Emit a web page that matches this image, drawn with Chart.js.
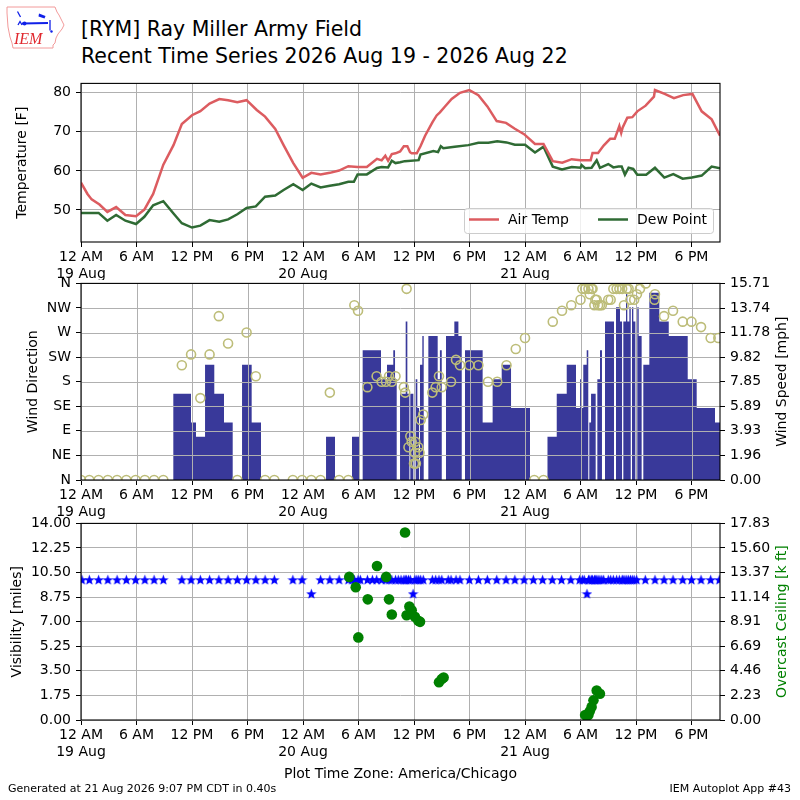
<!DOCTYPE html>
<html>
<head>
<meta charset="utf-8">
<title>RYM Recent Time Series</title>
<script src="https://cdn.jsdelivr.net/npm/chart.js@4.4.1/dist/chart.umd.min.js"></script>
<style>
  body { margin: 0; width: 800px; height: 800px; background: #fff; position: relative; overflow: hidden;
         font-family: "DejaVu Sans", sans-serif; color: #000; }
  canvas { position: absolute; left: 0; }
  .txt { position: absolute; white-space: nowrap; }
</style>
</head>
<body>
<canvas id="logo" width="70" height="55" style="top:0"></canvas>
<div class="txt" style="left:81px;top:16px;font-size:20.5px;line-height:27px">[RYM] Ray Miller Army Field<br>Recent Time Series 2026 Aug 19 - 2026 Aug 22</div>
<canvas id="tempChart" width="800" height="210" style="top:70px"></canvas>
<canvas id="windChart" width="800" height="250" style="top:270px"></canvas>
<canvas id="visChart" width="800" height="290" style="top:510px"></canvas>
<div class="txt" style="left:8px;top:782px;font-size:11px">Generated at 21 Aug 2026 9:07 PM CDT in 0.40s</div>
<div class="txt" style="right:9px;top:782px;font-size:11px">IEM Autoplot App #43</div>
<script>
// ==== Time axis: hours since 19 Aug 12 AM (America/Chicago)
const X_MAX = 69.08;
const xTickHours = [0, 6, 12, 18, 24, 30, 36, 42, 48, 54, 60, 66];
const xTickLabels = [["12 AM", "19 Aug"], "6 AM", "12 PM", "6 PM",
                     ["12 AM", "20 Aug"], "6 AM", "12 PM", "6 PM",
                     ["12 AM", "21 Aug"], "6 AM", "12 PM", "6 PM"];

// ==== Temperature
const tempTicks = [50, 60, 70, 80];
const airHours = [0,0.7,1.15,2.0,2.85,3.8,4.8,5.95,6.85,7.8,8.9,10.0,10.9,12.0,12.9,13.9,14.95,15.9,16.9,17.9,
  19.0,19.9,21.0,21.9,22.95,23.96,24.9,25.9,26.9,27.9,28.9,29.9,30.9,32.0,32.5,32.9,33.2,33.6,34.0,34.5,
  34.9,35.28,35.57,35.75,36.3,36.7,37.2,38.0,38.45,38.8,39.35,40.07,40.97,41.98,42.96,43.93,44.94,45.95,46.9,47.9,
  49.08,50.0,51.0,52.03,53.05,54.0,55.1,55.3,55.9,56.5,57.2,57.7,58.2,58.4,58.56,59.06,59.6,60.14,61.04,61.94,
  62.05,63.1,64.1,65.1,66.1,67.1,68.18,69.08];
const airTemp = [57.0,54.1,52.7,51.4,49.5,50.75,48.7,48.4,50.1,54.1,61.6,66.6,72.0,74.25,75.3,77.25,78.4,78.1,77.6,78.1,
  75.6,73.9,70.75,66.6,62.0,58.25,59.5,59.1,59.5,60.1,61.2,61.0,61.0,63.1,62.7,63.9,62.6,64.3,64.5,65.0,
  66.3,66.3,64.8,64.5,64.5,66.3,69.0,72.5,74.2,75.0,76.5,78.4,80.0,80.7,79.4,76.5,72.75,72.3,70.8,69.4,
  66.9,66.9,62.5,62.1,63.0,62.75,62.75,64.6,64.6,66.5,68.2,68.2,71.5,69.7,71.1,73.6,73.75,75.25,76.7,79.0,
  80.7,79.7,78.6,79.4,79.7,75.25,73.2,69.0];
const dewHours = [0,1,1.9,2.85,3.8,4.8,5.95,6.85,7.8,8.9,10.0,10.9,12.0,12.9,13.9,14.95,15.9,16.9,17.9,18.9,
  19.9,21.0,21.9,22.95,23.96,24.9,25.9,26.9,27.9,28.9,29.5,29.9,30.9,32.0,32.5,33.2,33.6,34.0,34.5,35.0,
  36.5,36.7,38.1,38.6,38.9,39.17,40.4,41.87,42.96,44.04,45.0,46.0,46.9,48.0,49.08,50.0,51.0,52.0,53.05,54.0,
  54.12,54.5,55.2,55.75,56.1,57.0,57.55,58.1,58.45,58.8,59.2,59.7,60.14,61.1,62.05,63.06,64.03,65.04,66.05,67.1,
  68.18,69.08];
const dewTemp = [49.25,49.25,49.25,47.25,48.7,47.25,46.4,48.25,51.2,52.25,49.1,46.6,45.5,46.0,47.4,47.0,47.6,48.9,50.5,50.9,
  53.4,53.7,55.1,56.6,55.1,56.75,55.75,56.2,56.6,57.2,57.2,59.1,59.1,60.75,61.0,60.9,62.6,62.0,62.2,62.5,
  62.75,64.2,65.1,64.8,66.3,65.8,66.2,66.6,67.2,67.2,67.6,67.3,66.7,66.7,64.7,66.2,61.1,60.4,61.0,60.8,
  61.5,60.7,60.8,62.7,60.8,61.75,60.9,61.1,61.1,59.0,60.8,60.5,59.0,59.0,60.8,58.3,59.2,58.0,58.3,58.8,
  61.1,60.7];

// ==== Wind
const dirTicks = [0, 45, 90, 135, 180, 225, 270, 315, 360];
const dirTickLabels = ["N", "NE", "E", "SE", "S", "SW", "W", "NW", "N"];
const spdTicks = [0, 1.96, 3.93, 5.89, 7.85, 9.82, 11.78, 13.74, 15.71];
const dirHours = [0,0.9,1.9,2.9,3.9,4.9,5.9,6.9,7.9,8.9,
  10.9,11.9,12.9,13.9,14.9,15.9,16.9,17.9,18.9,19.9,
  20.9,22.9,23.9,24.9,25.9,26.9,27.9,28.9,
  29.55,29.95,30.96,31.96,32.5,32.97,33.3,33.6,34.0,34.9,
  35.05,35.2,35.4,35.6,35.75,36.0,36.1,36.14,36.2,36.47,
  36.6,36.72,37.0,37.98,38.34,38.7,39.0,40.0,40.54,40.97,
  41.98,42.96,44.0,45.0,46.0,47.0,48.0,49.0,50.0,51.0,
  52.0,53.0,54.0,54.2,54.5,54.86,55.0,55.2,55.3,55.5,
  55.6,55.75,55.9,56.1,56.3,57.0,57.26,57.55,57.9,58.2,
  58.5,58.7,59.0,59.2,59.4,59.8,60.1,60.43,61.05,62.0,
  62.05,63.03,64.0,65.05,66.0,67.03,68.07,68.9];
const dirDeg = [0,0,0,0,0,0,0,0,0,0,
  210,230,150,230,300,250,0,270,190,0,
  0,0,0,0,0,160,0,0,
  320,310,170,190,180,180,190,180,190,170,
  160,350,60,80,70,30,50,70,30,60,
  50,110,120,160,170,190,170,180,220,210,
  210,210,180,180,210,240,260,0,0,290,
  310,320,330,350,350,350,340,350,350,320,
  330,330,320,320,320,330,330,350,350,350,
  350,320,350,350,330,330,340,350,360,330,
  340,300,310,290,290,280,260,260];
// speed in mph, each value holds until the next time
const spdHours = [0,9.98,11.89,12.43,13.41,14.41,15.46,16.4,17.41,18.45,
  19.46,26.49,27.46,29.30,30.09,30.45,32.43,33.08,33.76,33.95,
  34.13,34.49,35.1,35.28,35.5,35.6,35.93,36.18,36.36,36.55,
  36.65,36.9,37.05,37.55,38.56,38.8,39.0,39.46,40.36,40.8,
  41.16,41.51,43.42,44.5,45.48,46.49,48.54,50.43,51.43,52.51,
  53.51,53.95,54.05,54.3,54.67,54.84,54.95,55.14,55.64,55.82,
  56.11,56.32,56.65,57.62,57.84,58.27,58.49,58.63,58.92,59.06,
  59.28,59.43,59.57,59.71,59.93,60.14,60.29,60.61,60.79,61.44,
  62.52,63.54,65.59,66.56,68.54,69.2];
const spdMph = [0,6.90,4.60,3.45,9.21,6.90,4.60,0,9.21,4.60,
  0,3.45,0,3.45,0,10.36,8.06,9.21,10.36,8.06,
  0,6.90,12.66,6.90,0,6.90,0,8.06,5.75,0,
  9.21,11.51,0,11.51,8.06,10.36,0,11.51,12.66,11.51,
  0,10.36,4.60,8.06,9.21,5.75,0,3.45,6.90,9.21,
  5.75,8.06,5.75,9.21,10.36,0,4.60,6.90,0,8.06,
  10.36,0,12.66,0,13.81,12.66,0,12.66,14.96,12.66,
  13.81,0,13.81,12.66,0,13.81,11.51,0,9.21,14.96,
  12.66,11.51,8.06,5.75,4.60,4.60];

// ==== Visibility / ceiling
const visTicks = [0, 1.75, 3.5, 5.25, 7, 8.75, 10.5, 12.25, 14];
const ceilTicks = [0, 2.23, 4.46, 6.69, 8.91, 11.14, 13.37, 15.6, 17.83];
const visHours = [0.1,0.9,1.9,2.9,3.9,4.9,5.9,6.9,7.9,8.9,
  10.9,11.9,12.9,13.9,14.9,15.9,16.9,17.9,18.9,19.9,20.9,
  22.9,23.9,24.9,25.9,26.9,27.9,28.9,
  29.3,29.55,29.95,30.2,30.96,31.5,31.96,32.5,32.97,33.3,
  33.6,34.0,34.3,34.6,34.9,35.05,35.2,35.4,35.6,35.9,
  36.1,36.3,36.5,36.72,37.0,37.98,38.34,38.7,39.0,39.7,
  40.0,40.54,40.97,41.98,42.96,43.93,44.94,45.95,46.9,47.9,
  48.9,49.9,50.95,51.95,52.95,53.9,54.2,54.4,54.7,54.86,
  55.0,55.2,55.3,55.5,55.6,55.75,55.9,56.1,56.3,56.5,
  57.0,57.26,57.55,57.9,58.2,58.5,58.6,58.8,59.0,59.2,
  59.4,59.6,59.8,60.07,61.0,62.05,63.03,64.0,65.05,66.0,
  67.03,68.07,69.0];
const visMiles = [10,10,10,10,10,10,10,10,10,10,
  10,10,10,10,10,10,10,10,10,10,10,
  10,10,9,10,10,10,10,
  10,10,10,10,10,10,10,10,10,10,
  10,10,10,10,10,10,10,10,10,9,
  10,10,10,10,10,10,10,10,10,10,
  10,10,10,10,10,10,10,10,10,10,
  10,10,10,10,10,10,10,10,9,10,
  10,10,10,10,10,10,10,10,10,10,
  10,10,10,10,10,10,10,10,10,10,
  10,10,10,10,10,10,10,10,10,10,
  10,10,10];
const ceilHours = [29.0,29.7,29.98,31.0,32.0,33.0,33.3,33.6,35.03,35.2,35.5,35.75,36.1,36.47,36.65,
  38.7,39.0,39.2,54.5,54.85,55.0,55.2,55.4,55.75,56.1];
const ceilKft = [12.98,12.04,7.49,10.94,13.97,12.98,10.94,9.57,17.0,9.5,10.3,9.96,9.36,9.0,8.9,
  3.42,3.71,3.86,0.45,0.45,0.8,1.19,1.78,2.67,2.38];

// ==== Styles
const GRID = "#b0b0b0";
const AIR_C = "#dc5c60";
const DEW_C = "#2f6b34";
const BAR_C = "#39399a";
const DIR_C = "#bdbd79";
const VIS_C = "#0000ff";
const CEIL_C = "#008000";

Chart.defaults.font.family = "'DejaVu Sans', sans-serif";
Chart.defaults.font.size = 14;
Chart.defaults.color = "#000";

// ==== Helpers
const pts = (xs, ys) => xs.map((x, i) => ({ x: x, y: ys[i] }));

function fixTicks(list) {
  return s => { s.ticks = list.map(v => ({ value: v })); };
}

function timeScale(h, onArea, extra) {
  return Object.assign({
    type: "linear", min: 0, max: X_MAX,
    afterBuildTicks: fixTicks(xTickHours),
    afterFit: s => { s.height = h; },
    ticks: { autoSkip: false, maxRotation: 0, padding: 2, callback: (v, i) => xTickLabels[i] },
    grid: { color: GRID, tickColor: "#000", tickLength: 5, drawOnChartArea: onArea },
    border: { display: false },
  }, extra || {});
}

function valueScale(pos, min, max, ticks, fmt, onArea, extra) {
  return Object.assign({
    type: "linear", position: pos, min: min, max: max,
    afterBuildTicks: fixTicks(ticks),
    afterFit: s => { s.width = pos === "left" ? 81 : 80; },
    ticks: { autoSkip: false, padding: 5, callback: fmt },
    grid: { color: GRID, tickColor: "#000", tickLength: 5, drawOnChartArea: onArea },
    border: { display: false },
  }, extra || {});
}

function makeStar(size, color) {
  const c = document.createElement("canvas");
  c.width = c.height = size;
  const g = c.getContext("2d");
  const R = size / 2, r = R * 0.42;
  g.beginPath();
  for (let i = 0; i < 10; i++) {
    const a = -Math.PI / 2 + i * Math.PI / 5;
    const rr = i % 2 ? r : R;
    g.lineTo(R + rr * Math.cos(a), R + 0.6 + rr * Math.sin(a));
  }
  g.closePath();
  g.fillStyle = color;
  g.fill();
  return c;
}

// ==== Plugins
const framePlugin = {
  id: "frame",
  afterDraw(chart) {
    const { ctx, chartArea: a } = chart;
    ctx.save();
    ctx.strokeStyle = "#000";
    ctx.lineWidth = 1.1;
    ctx.strokeRect(a.left, a.top, a.right - a.left, a.bottom - a.top);
    ctx.restore();
  }
};

const rightTitle = {
  id: "rightTitle",
  afterDraw(chart, args, opts) {
    if (!opts || !opts.text) return;
    const { ctx, chartArea: a } = chart;
    ctx.save();
    ctx.translate(opts.x, (a.top + a.bottom) / 2);
    ctx.rotate(-Math.PI / 2);
    ctx.font = "14px 'DejaVu Sans'";
    ctx.fillStyle = opts.color;
    ctx.textAlign = "center";
    ctx.textBaseline = "middle";
    ctx.fillText(opts.text, 0, 0);
    ctx.restore();
  }
};

// legend box drawn inside the plot, lower right
const tempLegend = {
  id: "tempLegend",
  afterDraw(chart) {
    const { ctx, chartArea: a } = chart;
    const w = 249, h = 25;
    const x0 = a.right - 7 - w, y0 = a.bottom - 9 - h;
    ctx.save();
    ctx.beginPath();
    ctx.roundRect(x0 + 0.5, y0 + 0.5, w, h, 3);
    ctx.fillStyle = "rgba(255,255,255,0.8)";
    ctx.fill();
    ctx.strokeStyle = "#cccccc";
    ctx.lineWidth = 1;
    ctx.stroke();
    const offs = [5, 134];
    chart.data.datasets.forEach((ds, i) => {
      const lx = x0 + offs[i], ly = y0 + 11.5;
      ctx.beginPath();
      ctx.moveTo(lx, ly);
      ctx.lineTo(lx + 30, ly);
      ctx.strokeStyle = ds.borderColor;
      ctx.lineWidth = 2.5;
      ctx.stroke();
      ctx.font = "14px 'DejaVu Sans'";
      ctx.fillStyle = "#000";
      ctx.textBaseline = "middle";
      ctx.fillText(ds.label, lx + 39, ly + 1);
    });
    ctx.restore();
  }
};

// grid goes over the speed bars but under the direction circles
const gridOver = {
  id: "gridOver",
  beforeDatasetDraw(chart, args) {
    if (args.index !== 0) return;
    const { ctx, chartArea: a, scales } = chart;
    ctx.save();
    ctx.strokeStyle = GRID;
    ctx.lineWidth = 1;
    ctx.beginPath();
    scales.x.ticks.forEach(t => {
      const px = Math.round(scales.x.getPixelForValue(t.value)) + 0.5;
      ctx.moveTo(px, a.top);
      ctx.lineTo(px, a.bottom);
    });
    scales.yDir.ticks.forEach(t => {
      const py = Math.round(scales.yDir.getPixelForValue(t.value)) + 0.5;
      ctx.moveTo(a.left, py);
      ctx.lineTo(a.right, py);
    });
    ctx.stroke();
    ctx.restore();
  }
};

const common = {
  responsive: false,
  animation: false,
  events: [],
};

// ==== Temperature panel
new Chart(document.getElementById("tempChart"), {
  type: "line",
  data: {
    datasets: [
      { label: "Air Temp", data: pts(airHours, airTemp), borderColor: AIR_C, borderWidth: 2.5,
        pointRadius: 0, tension: 0 },
      { label: "Dew Point", data: pts(dewHours, dewTemp), borderColor: DEW_C, borderWidth: 2.5,
        pointRadius: 0, tension: 0 },
    ]
  },
  options: Object.assign({}, common, {
    layout: { padding: { top: 10, right: 80, left: 0, bottom: 0 } },
    plugins: { legend: { display: false }, tooltip: { enabled: false } },
    scales: {
      x: timeScale(38, true),
      y: valueScale("left", 41.8, 82.4, tempTicks, v => String(v), true, {
        title: { display: true, text: "Temperature [F]", padding: { top: 14, bottom: 0 } }
      }),
    }
  }),
  plugins: [tempLegend, framePlugin]
});

// ==== Wind panel
new Chart(document.getElementById("windChart"), {
  type: "line",
  data: {
    datasets: [
      { label: "Wind Direction", data: pts(dirHours, dirDeg), yAxisID: "yDir", showLine: false,
        pointRadius: 4.5, pointBorderWidth: 1.6, borderColor: DIR_C, pointBorderColor: DIR_C,
        pointBackgroundColor: "rgba(0,0,0,0)", backgroundColor: "rgba(0,0,0,0)", order: 0 },
      { label: "Wind Speed", data: pts(spdHours, spdMph), yAxisID: "ySpd", stepped: true,
        fill: "origin", backgroundColor: BAR_C, borderColor: "rgba(0,0,0,0)", borderWidth: 1,
        pointRadius: 0, order: 1 },
    ]
  },
  options: Object.assign({}, common, {
    layout: { padding: { top: 10, right: 0, left: 0, bottom: 0 } },
    plugins: {
      legend: { display: false }, tooltip: { enabled: false },
      rightTitle: { text: "Wind Speed [mph]", color: "#000", x: 782 }
    },
    scales: {
      x: timeScale(40, false),
      yDir: valueScale("left", 0, 360, dirTicks, (v, i) => dirTickLabels[i], false, {
        title: { display: true, text: "Wind Direction", padding: { top: 25, bottom: 0 } }
      }),
      ySpd: valueScale("right", 0, 15.71, spdTicks, v => v.toFixed(2), false),
    }
  }),
  plugins: [gridOver, framePlugin, rightTitle]
});

// ==== Visibility / ceiling panel
new Chart(document.getElementById("visChart"), {
  type: "line",
  data: {
    datasets: [
      { label: "Overcast Ceiling", data: pts(ceilHours, ceilKft), yAxisID: "yCeil", showLine: false,
        pointRadius: 5.3, pointBorderWidth: 0, borderColor: CEIL_C, pointBackgroundColor: CEIL_C,
        backgroundColor: CEIL_C, order: 0 },
      { label: "Visibility", data: pts(visHours, visMiles), yAxisID: "yVis", showLine: false,
        pointStyle: makeStar(11, VIS_C), pointRadius: 5, borderColor: VIS_C, backgroundColor: VIS_C,
        order: 1 },
    ]
  },
  options: Object.assign({}, common, {
    layout: { padding: { top: 10, right: 0, left: 0, bottom: 0 } },
    plugins: {
      legend: { display: false }, tooltip: { enabled: false },
      rightTitle: { text: "Overcast Ceiling [k ft]", color: CEIL_C, x: 782 }
    },
    scales: {
      x: timeScale(80, true, {
        title: { display: true, text: "Plot Time Zone: America/Chicago", padding: { top: 0, bottom: 17.6 } }
      }),
      yVis: valueScale("left", 0, 14, visTicks, v => v.toFixed(2), true, {
        title: { display: true, text: "Visibility [miles]", padding: { top: 9, bottom: 0 } }
      }),
      yCeil: valueScale("right", 0, 17.83, ceilTicks, v => v.toFixed(2), false),
    }
  }),
  plugins: [framePlugin, rightTitle]
});

// ==== Logo (IEM)
(function drawLogo() {
  const g = document.getElementById("logo").getContext("2d");
  const iowa = [[7,7],[55,7],[57,12],[59,15],[62,21],[64,25],[62,29],[58,34],[56,38],[55,43],
                [53,45],[53,48],[13,48],[12,43],[10,37],[8,27],[7,13]];
  g.beginPath();
  iowa.forEach((p, i) => (i ? g.lineTo(p[0], p[1]) : g.moveTo(p[0], p[1])));
  g.closePath();
  g.strokeStyle = "#f29a9a";
  g.lineWidth = 1;
  g.stroke();
  g.font = "italic 16px 'Liberation Serif'";
  g.fillStyle = "#e0282e";
  g.fillText("IEM", 14, 44);
  g.strokeStyle = "#1020e8";
  g.fillStyle = "#1020e8";
  g.lineWidth = 2.2;
  g.beginPath(); g.moveTo(22, 23.5); g.lineTo(48, 23); g.stroke();
  g.lineWidth = 1.3;
  g.beginPath(); g.moveTo(17.5, 11.5); g.lineTo(20.5, 17); g.stroke();
  g.beginPath(); g.moveTo(18, 25); g.lineTo(20, 21.5); g.lineTo(22, 25); g.stroke();
  g.beginPath(); g.arc(24.5, 23.5, 2, 0, Math.PI * 2); g.fill();
  g.beginPath(); g.moveTo(39, 13.5); g.lineTo(45.5, 16); g.lineTo(44.5, 18.5); g.lineTo(38.5, 16.5); g.closePath(); g.fill();
  g.beginPath(); g.moveTo(50, 20); g.lineTo(50, 30.5); g.stroke();
  g.beginPath(); g.arc(51.5, 31.5, 1.2, 0, Math.PI * 2); g.fill();
})();
</script>
</body>
</html>
